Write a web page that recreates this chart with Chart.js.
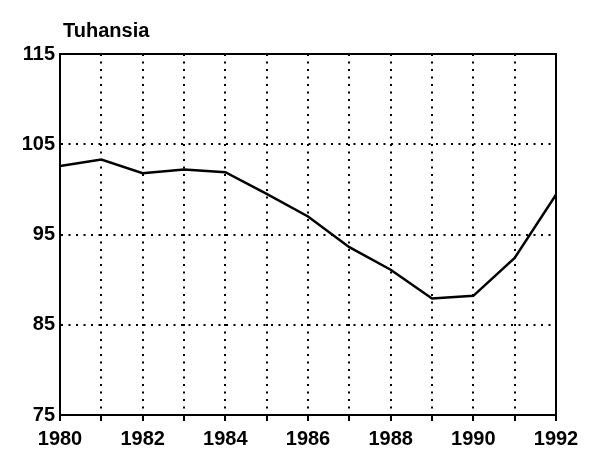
<!DOCTYPE html>
<html lang="fi">
<head>
    <meta charset="UTF-8">
    <title>Tuhansia 1980-1992</title>
    <style>
        html, body { margin: 0; padding: 0; background: #fff; }
        #wrap { width: 594px; height: 460px; position: relative; }
    </style>
</head>
<body>
    <div id="wrap"><canvas id="chart" width="594" height="460"></canvas></div>

    <script src="https://cdn.jsdelivr.net/npm/chart.js@4"></script>
    <script>
        // Data
        const years = [1980, 1981, 1982, 1983, 1984, 1985, 1986, 1987, 1988, 1989, 1990, 1991, 1992];
        const values = [102.6, 103.3, 101.8, 102.2, 101.9, 99.5, 97.0, 93.6, 91.1, 87.9, 88.2, 92.4, 99.4];
        const yTicks = [75, 85, 95, 105, 115];
        const xLabelYears = [1980, 1982, 1984, 1986, 1988, 1990, 1992];
        const unitLabel = 'Tuhansia';

        const FONT = { family: '"Liberation Sans", Arial, sans-serif', size: 20, weight: 'bold' };

        // top/right frame + unit text
        const frame = {
            id: 'frame',
            afterDraw(chart) {
                const { ctx, chartArea: a } = chart;
                ctx.save();
                ctx.strokeStyle = '#000';
                ctx.lineWidth = 2;
                ctx.strokeRect(a.left, a.top, a.right - a.left, a.bottom - a.top);
                ctx.fillStyle = '#000';
                ctx.font = `${FONT.weight} ${FONT.size}px ${FONT.family}`;
                ctx.textBaseline = 'alphabetic';
                ctx.fillText(unitLabel, a.left + 3, a.top - 17);
                ctx.restore();
            }
        };

        new Chart(document.getElementById('chart'), {
            type: 'line',
            data: {
                datasets: [{
                    data: years.map((y, i) => ({ x: y, y: values[i] })),
                    borderColor: '#000',
                    borderWidth: 2.5,
                    pointRadius: 0,
                    tension: 0,
                    fill: false
                }]
            },
            options: {
                responsive: false,
                animation: false,
                layout: { padding: { top: 54, left: 8, right: 38, bottom: 8 } },
                plugins: { legend: { display: false }, tooltip: { enabled: false } },
                scales: {
                    x: {
                        type: 'linear',
                        min: years[0],
                        max: years[years.length - 1],
                        afterBuildTicks: s => { s.ticks = years.map(v => ({ value: v })); },
                        afterFit: s => { s.height = 37; },
                        ticks: {
                            color: '#000',
                            font: FONT,
                            padding: 6,
                            maxRotation: 0,
                            autoSkip: false,
                            callback: v => xLabelYears.includes(v) ? String(v) : ''
                        },
                        grid: {
                            color: '#000',
                            lineWidth: 2,
                            drawTicks: true,
                            tickLength: 6,
                            tickWidth: 2,
                            tickColor: '#000',
                            borderDash: [2, 5.5]
                        },
                        border: { display: true, color: '#000', width: 2, dash: [2, 5.5] }
                    },
                    y: {
                        min: yTicks[0],
                        max: yTicks[yTicks.length - 1],
                        afterBuildTicks: s => { s.ticks = yTicks.map(v => ({ value: v })); },
                        afterFit: s => { s.width = 52; },
                        ticks: { color: '#000', font: FONT, padding: 5 },
                        grid: {
                            color: '#000',
                            lineWidth: 2,
                            drawTicks: false,
                            borderDash: [2, 5.5]
                        },
                        border: { display: true, color: '#000', width: 2, dash: [2, 5.5] }
                    }
                }
            },
            plugins: [frame]
        });
    </script>
</body>
</html>
